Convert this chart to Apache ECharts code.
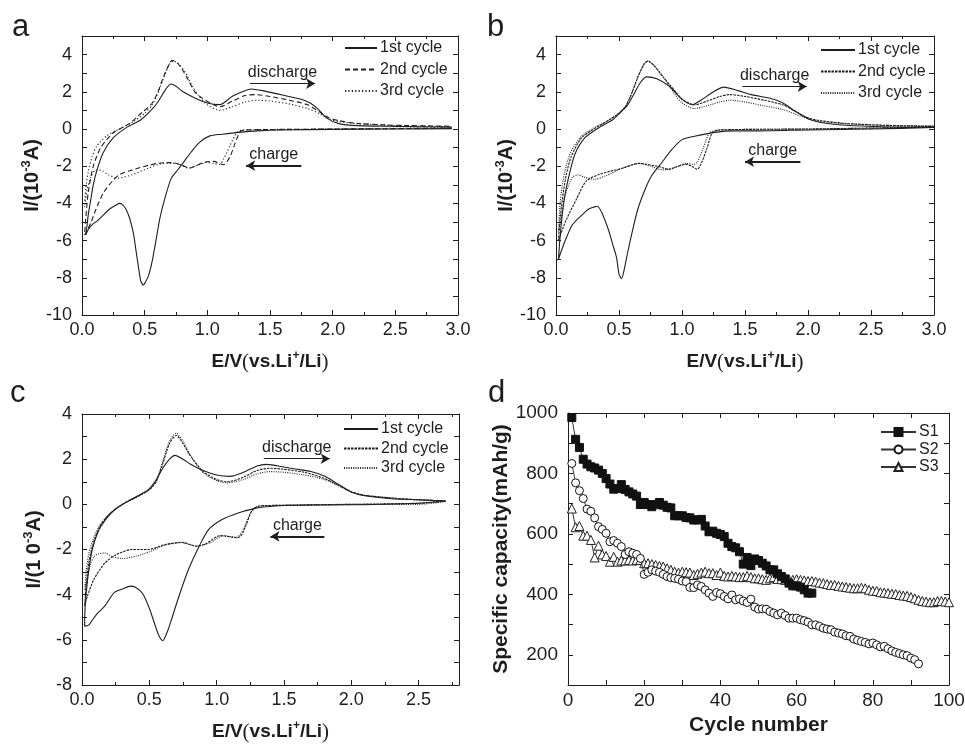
<!DOCTYPE html>
<html>
<head>
<meta charset="utf-8">
<script src="https://cdn.jsdelivr.net/npm/echarts@6/dist/echarts.min.js"></script>
<style>html,body{margin:0;padding:0;background:#fff}#c{width:965px;height:744px}</style>
</head>
<body>
<div id="c"></div>
<script>
// ---------- Panel a (E in V, I in 1e-3 A), each curve is a closed loop ----------
const aE1 = [2.95,2.5,2.0,1.6,1.4,1.25,1.12,1.02,0.94,0.87,0.81,0.76,0.71,0.66,0.62,0.59,0.56,0.53,0.50,0.49,0.47,0.45,0.43,0.41,0.38,0.35,0.32,0.30,0.27,0.22,0.16,0.12,0.08,0.05,0.03,
             0.04,0.05,0.07,0.09,0.12,0.17,0.25,0.36,0.47,0.55,0.60,0.65,0.68,0.71,0.75,0.80,0.90,1.00,1.10,1.20,1.28,1.35,1.45,1.55,1.65,1.75,1.82,1.88,1.95,2.05,2.20,2.50,2.95];
const aI1 = [0.02,0.0,-0.02,-0.05,-0.1,-0.18,-0.28,-0.37,-0.71,-1.25,-1.79,-2.23,-2.68,-3.76,-4.84,-6.0,-7.1,-7.9,-8.3,-8.38,-8.2,-7.4,-6.5,-5.6,-4.8,-4.3,-4.05,-4.0,-4.1,-4.3,-4.7,-4.95,-5.15,-5.4,-5.7,
             -5.2,-4.6,-3.8,-3.0,-2.2,-1.27,-0.47,0.1,0.5,1.0,1.4,1.94,2.25,2.42,2.3,2.03,1.67,1.4,1.31,1.76,2.0,2.15,2.05,1.9,1.75,1.6,1.4,1.1,0.6,0.29,0.18,0.14,0.11];
const aE2 = [2.95,2.5,2.0,1.5,1.3,1.26,1.22,1.18,1.13,1.05,0.97,0.90,0.86,0.80,0.71,0.60,0.53,0.40,0.30,0.25,0.17,0.11,0.07,0.03,0.02,
             0.03,0.05,0.09,0.15,0.25,0.38,0.48,0.55,0.60,0.65,0.70,0.72,0.76,0.80,0.85,0.90,0.95,1.05,1.10,1.20,1.30,1.38,1.50,1.65,1.80,1.90,1.97,2.05,2.20,2.50,2.95];
const aI2 = [0.05,0.02,0.0,-0.03,-0.05,-0.15,-0.8,-1.5,-1.92,-1.74,-1.8,-2.0,-2.1,-1.95,-1.8,-1.85,-1.95,-2.2,-2.45,-2.74,-3.44,-4.34,-5.05,-5.6,-5.7,
             -4.8,-3.4,-2.0,-1.0,-0.2,0.3,0.9,1.3,1.9,2.8,3.55,3.7,3.55,3.2,2.6,2.0,1.7,1.3,1.2,1.5,1.8,1.85,1.75,1.55,1.3,0.9,0.6,0.45,0.3,0.2,0.15];
const aE3 = [2.95,2.0,1.3,1.24,1.18,1.13,1.10,1.05,1.00,0.90,0.85,0.75,0.65,0.53,0.40,0.29,0.21,0.16,0.11,0.07,0.04,0.02,
             0.03,0.05,0.08,0.12,0.20,0.30,0.40,0.50,0.56,0.61,0.66,0.70,0.73,0.77,0.82,0.88,0.93,1.00,1.10,1.20,1.30,1.40,1.50,1.65,1.80,1.90,1.97,2.05,2.20,2.50,2.95];
const aI3 = [0.07,0.0,-0.05,-0.15,-0.9,-1.6,-1.9,-1.85,-1.8,-2.0,-2.1,-1.85,-1.85,-2.1,-2.46,-2.64,-2.46,-2.24,-2.2,-2.6,-3.3,-4.2,
             -3.2,-2.3,-1.5,-0.9,-0.35,0.0,0.35,0.85,1.3,2.0,2.9,3.5,3.65,3.5,3.1,2.3,1.8,1.3,1.0,1.2,1.45,1.55,1.5,1.35,1.1,0.8,0.55,0.4,0.28,0.18,0.12];

// ---------- Panel b ----------
const bE1 = [3.0,2.5,2.0,1.6,1.42,1.26,1.10,1.00,0.92,0.84,0.76,0.71,0.65,0.61,0.57,0.54,0.52,0.50,0.48,0.45,0.42,0.37,0.33,0.30,0.26,0.21,0.13,0.07,0.04,0.02,
             0.03,0.05,0.07,0.10,0.15,0.23,0.34,0.45,0.52,0.57,0.62,0.67,0.72,0.80,0.90,0.97,1.02,1.08,1.15,1.25,1.33,1.45,1.55,1.70,1.80,1.90,2.00,2.10,2.30,2.60,3.0];
const bI1 = [0.08,0.0,-0.05,-0.1,-0.1,-0.18,-0.39,-0.57,-1.1,-1.8,-2.5,-3.2,-4.3,-5.38,-6.6,-7.6,-8.05,-7.8,-6.9,-6.2,-5.5,-4.6,-4.15,-4.2,-4.3,-4.6,-5.15,-6.05,-6.6,-7.0,
             -6.0,-4.6,-3.6,-2.6,-1.36,-0.47,0.07,0.5,0.95,1.3,1.9,2.5,2.8,2.7,2.3,1.8,1.5,1.3,1.55,2.0,2.25,2.05,1.85,1.65,1.4,0.95,0.55,0.35,0.2,0.12,0.1];
const bE2 = [3.0,2.0,1.3,1.24,1.20,1.15,1.12,1.08,1.03,0.95,0.90,0.80,0.66,0.53,0.34,0.24,0.16,0.08,0.03,0.02,
             0.03,0.05,0.08,0.12,0.20,0.30,0.40,0.50,0.55,0.60,0.65,0.70,0.73,0.78,0.85,0.90,0.95,1.00,1.10,1.20,1.30,1.38,1.50,1.65,1.80,1.90,2.00,2.10,2.30,2.60,3.0];
const bI2 = [0.1,0.0,-0.05,-0.2,-1.0,-1.9,-2.17,-2.0,-1.9,-2.05,-2.17,-2.0,-1.85,-2.1,-2.45,-2.8,-3.8,-4.9,-5.8,-6.0,
             -5.0,-3.8,-2.5,-1.5,-0.5,0.0,0.4,0.85,1.2,1.9,2.8,3.5,3.65,3.4,2.8,2.4,2.0,1.6,1.3,1.5,1.75,1.85,1.75,1.55,1.3,0.95,0.6,0.45,0.3,0.2,0.15];
const bE3 = [3.0,2.0,1.3,1.22,1.17,1.12,1.09,1.03,0.95,0.85,0.75,0.66,0.53,0.40,0.31,0.23,0.17,0.13,0.07,0.04,0.02,
             0.03,0.05,0.08,0.12,0.20,0.30,0.40,0.50,0.55,0.60,0.65,0.70,0.73,0.78,0.85,0.90,0.95,1.00,1.10,1.20,1.30,1.38,1.50,1.65,1.80,1.90,2.00,2.10,2.30,2.60,3.0];
const bI3 = [0.1,0.0,-0.05,-0.2,-1.0,-1.8,-1.9,-1.85,-2.05,-2.2,-2.0,-1.85,-2.1,-2.5,-2.7,-2.6,-2.46,-2.6,-3.6,-4.9,-5.5,
             -4.2,-3.0,-2.0,-1.2,-0.4,0.05,0.4,0.85,1.2,1.9,2.8,3.5,3.65,3.4,2.8,2.3,1.8,1.4,1.1,1.25,1.45,1.55,1.45,1.25,1.05,0.8,0.55,0.4,0.28,0.2,0.15];

// ---------- Panel c ----------
const cE1 = [2.7,2.5,2.0,1.5,1.35,1.27,1.16,1.04,0.94,0.87,0.79,0.72,0.67,0.63,0.60,0.57,0.54,0.50,0.45,0.40,0.36,0.30,0.24,0.17,0.12,0.08,0.05,0.02,
             0.02,0.03,0.06,0.09,0.14,0.24,0.36,0.49,0.55,0.60,0.65,0.69,0.75,0.80,0.90,1.00,1.10,1.20,1.30,1.37,1.50,1.60,1.70,1.80,1.90,2.00,2.10,2.30,2.50,2.7];
const cI1 = [0.15,0.05,-0.02,-0.05,-0.12,-0.2,-0.38,-0.67,-1.12,-1.86,-2.9,-4.07,-5.0,-5.7,-6.04,-5.8,-5.3,-4.6,-3.95,-3.68,-3.62,-3.75,-3.9,-4.5,-4.8,-5.1,-5.35,-5.4,
             -5.2,-4.0,-2.5,-1.7,-0.98,-0.25,0.2,0.64,1.08,1.6,2.0,2.17,2.0,1.8,1.5,1.3,1.24,1.42,1.7,1.77,1.65,1.55,1.45,1.25,0.9,0.55,0.38,0.25,0.2,0.15];
const cE2 = [2.7,2.5,2.0,1.4,1.3,1.26,1.22,1.18,1.15,1.03,0.91,0.85,0.74,0.62,0.49,0.37,0.25,0.17,0.09,0.04,0.02,
             0.03,0.05,0.08,0.13,0.20,0.30,0.40,0.50,0.55,0.60,0.65,0.70,0.75,0.80,0.90,1.00,1.08,1.20,1.30,1.40,1.50,1.65,1.80,1.90,2.00,2.10,2.30,2.50,2.7];
const cI2 = [0.15,0.05,0.0,-0.05,-0.1,-0.3,-0.9,-1.4,-1.48,-1.38,-1.78,-1.85,-1.68,-1.78,-2.0,-2.0,-2.24,-2.6,-3.3,-4.07,-4.5,
             -3.6,-2.6,-1.8,-1.0,-0.45,0.0,0.3,0.65,1.0,1.8,2.7,3.05,2.7,2.2,1.45,1.1,1.0,1.2,1.5,1.6,1.55,1.42,1.15,0.85,0.55,0.4,0.28,0.2,0.15];
const cE3 = [2.7,2.5,2.0,1.4,1.3,1.25,1.20,1.15,1.05,0.95,0.85,0.74,0.62,0.50,0.40,0.30,0.22,0.17,0.12,0.09,0.06,0.04,0.02,
             0.03,0.05,0.08,0.13,0.20,0.30,0.40,0.50,0.55,0.60,0.65,0.70,0.75,0.80,0.90,1.00,1.08,1.20,1.30,1.40,1.50,1.65,1.80,1.90,2.00,2.10,2.30,2.50,2.7];
const cI3 = [0.12,0.0,0.0,-0.05,-0.1,-0.4,-1.1,-1.45,-1.4,-1.7,-1.85,-1.7,-1.8,-2.1,-2.3,-2.4,-2.3,-2.15,-2.2,-2.3,-2.7,-3.3,-3.8,
             -3.0,-2.2,-1.6,-0.95,-0.45,0.0,0.3,0.65,1.0,1.9,2.8,3.15,2.8,2.2,1.4,1.05,0.95,1.1,1.35,1.45,1.42,1.3,1.1,0.85,0.55,0.4,0.28,0.2,0.15];

// ---------- Panel d (specific capacity, mAh/g, per cycle starting at cycle 1) ----------
const capS1 = [985,913,886,847,831,822,818,811,800,783,765,748,750,763,747,739,732,725,697,704,697,690,697,704,695,688,686,660,660,660,654,653,646,646,648,626,607,609,602,598,591,569,558,554,541,500,522,495,517,512,503,494,481,481,468,459,451,437,428,428,424,415,404,404];
const capS2 = [833,769,743,717,682,675,653,624,615,602,574,578,569,558,532,541,536,532,519,466,473,481,477,473,466,459,455,453,450,444,442,423,422,431,426,415,404,393,406,402,393,385,398,382,385,378,373,384,358,351,352,351,343,338,332,338,330,321,321,321,316,313,308,299,299,294,288,285,283,275,272,269,263,261,252,248,244,241,236,239,233,226,228,220,213,208,204,200,197,189,184,170];
const capS3 = [684,622,626,594,594,580,522,561,532,527,508,524,508,512,512,514,512,514,514,503,503,500,497,494,492,486,481,475,472,475,473,472,464,468,472,475,470,470,464,472,461,459,461,459,457,457,461,457,453,453,450,448,453,457,451,450,448,448,448,450,448,446,444,444,442,439,437,434,431,431,428,426,424,422,420,420,422,420,415,412,411,407,406,404,402,401,398,396,395,391,387,382,378,376,374,374,378,378,376,374];

const cvNames = ['1st cycle','2nd cycle','3rd cycle'];
const capNames = ['S1','S2','S3'];

const FONT = 'Liberation Sans, Arial, sans-serif';
const INK = '#1e1e1e';
const zip = (xs, ys) => xs.map((x, i) => [x, ys[i]]);
const cyc = arr => arr.map((v, i) => [i + 1, v]);

const grids = [
  {left: 82, top: 36, width: 376, height: 279},
  {left: 556, top: 36, width: 378, height: 279},
  {left: 82, top: 414, width: 377, height: 271},
  {left: 568, top: 413, width: 381, height: 272}
].map(g => Object.assign({outerBoundsMode: 'none', containLabel: false}, g));

const xName = {
  text: '{b|E/V}{p|(}{b|vs.Li}{s|+}{b|/Li}{p|)}',
  rich: {
    b: {fontFamily: FONT, fontWeight: 'bold', fontSize: 19, color: INK, lineHeight: 24},
    p: {fontFamily: 'Liberation Serif, Times New Roman, serif', fontSize: 21, color: INK, lineHeight: 24},
    s: {fontFamily: FONT, fontWeight: 'bold', fontSize: 12, color: INK, lineHeight: 24, verticalAlign: 'top'}
  }
};
function yNameCV(spaced) {
  return {
    text: spaced ? '{b|I/(1 0}{s|-3}{b|A)}' : '{b|I/(10}{s|-3}{b|A)}',
    rich: {
      b: {fontFamily: FONT, fontWeight: 'bold', fontSize: 20, color: INK, lineHeight: 24},
      s: {fontFamily: FONT, fontWeight: 'bold', fontSize: 13, color: INK, lineHeight: 24, verticalAlign: 'top'}
    }
  };
}

const axisLineStyle = {show: true, onZero: false, lineStyle: {color: INK, width: 1}};
const fmtHalf = v => (Math.abs(v * 2 - Math.round(v * 2)) < 1e-6 ? v.toFixed(1) : '');

function xAxes(gi, max, labelFmt, interval, minor, nameObj, nameGap, labelSize) {
  const base = {
    type: 'value', gridIndex: gi, min: 0, max: max, interval: interval,
    axisLine: axisLineStyle, splitLine: {show: false},
    axisTick: {show: true, inside: true, length: 5, lineStyle: {color: INK}},
    minorTick: {show: minor, splitNumber: 2, length: 3, lineStyle: {color: INK}}
  };
  const bottom = Object.assign({}, base, {
    position: 'bottom',
    axisLabel: {show: true, formatter: labelFmt, fontFamily: FONT, fontSize: labelSize, color: INK, margin: 6},
    name: nameObj.text, nameLocation: 'middle', nameGap: nameGap,
    nameTextStyle: {rich: nameObj.rich}
  });
  const top = Object.assign({}, base, {position: 'top', axisLabel: {show: false}});
  return [bottom, top];
}
function yAxes(gi, min, max, interval, labelFmt, nameObj, nameGap, labelSize) {
  const base = {
    type: 'value', gridIndex: gi, min: min, max: max, interval: interval,
    axisLine: axisLineStyle, splitLine: {show: false},
    axisTick: {show: true, inside: true, length: 5, lineStyle: {color: INK}}
  };
  const left = Object.assign({}, base, {
    position: 'left',
    axisLabel: {show: true, formatter: labelFmt, fontFamily: FONT, fontSize: labelSize, color: INK, margin: 10},
    name: nameObj.text, nameLocation: 'middle', nameGap: nameGap, nameRotate: 90,
    nameTextStyle: {rich: nameObj.rich}
  });
  const right = Object.assign({}, base, {position: 'right', axisLabel: {show: false}});
  return [left, right];
}

const evenFmt = v => (Math.round(v) % 2 === 0 ? String(v) : '');
const fmt200 = v => (v % 200 === 0 ? String(v) : '');
const fmt20 = v => (v % 20 === 0 ? String(v) : '');

const xAxis = [].concat(
  xAxes(0, 3, fmtHalf, 0.5, true, xName, 35, 18),
  xAxes(1, 3, fmtHalf, 0.5, true, xName, 35, 18),
  xAxes(2, 2.8, v => (v <= 2.51 ? fmtHalf(v) : ''), 0.5, true, xName, 35, 18),
  xAxes(3, 100, fmt20, 10, false, {text: 'Cycle number', rich: {}}, 30, 19)
);
xAxis[6].nameTextStyle = {fontFamily: FONT, fontWeight: 'bold', fontSize: 21, color: INK};

const yAxis = [].concat(
  yAxes(0, -10, 5, 1, evenFmt, yNameCV(false), 35, 18),
  yAxes(1, -10, 5, 1, evenFmt, yNameCV(false), 30, 18),
  yAxes(2, -8, 4, 1, evenFmt, yNameCV(true), 36, 18),
  yAxes(3, 100, 1000, 100, fmt200, {text: 'Specific capacity(mAh/g)', rich: {}}, 51, 19)
);
yAxis[6].nameTextStyle = {fontFamily: FONT, fontWeight: 'bold', fontSize: 21, color: INK};

function cvSeries(panel, idx, names, curves, dashes, notes) {
  return curves.map((c, k) => {
    const s = {
      name: panel + '|' + names[k], type: 'line', xAxisIndex: idx * 2, yAxisIndex: idx * 2,
      data: zip(c[0], c[1]), showSymbol: false, symbol: 'none', smooth: 0.25,
      lineStyle: {color: INK, width: 1.1, type: dashes[k]}, itemStyle: {color: INK},
      z: 3
    };
    if (k === 0) {
      s.markLine = {
        silent: true, animation: false, symbol: ['none', 'arrow'], symbolSize: [8, 9],
        lineStyle: {type: 'solid', color: INK, width: 1.2},
        label: {show: true, position: 'insideMiddleTop', distance: 3, fontFamily: FONT, fontSize: 16, color: INK},
        data: [
          [{coord: notes.dis[0], label: {formatter: 'discharge'}}, {coord: notes.dis[1]}],
          [{coord: notes.chg[0], symbol: 'arrow', label: {formatter: 'charge'}, lineStyle: {width: 2.2}}, {coord: notes.chg[1], symbol: 'none'}]
        ]
      };
    }
    return s;
  });
}

const series = [].concat(
  cvSeries('a', 0, cvNames, [[aE1, aI1], [aE2, aI2], [aE3, aI3]], ['solid', [5, 3], [1.2, 2.2]],
    {dis: [[1.34, 2.44], [1.86, 2.44]], chg: [[1.31, -1.97], [1.75, -1.97]]}),
  cvSeries('b', 1, cvNames, [[bE1, bI1], [bE2, bI2], [bE3, bI3]], ['solid', [2.5, 1], [1, 1.3]],
    {dis: [[1.48, 2.28], [1.99, 2.28]], chg: [[1.50, -1.76], [1.94, -1.76]]}),
  cvSeries('c', 2, cvNames, [[cE1, cI1], [cE2, cI2], [cE3, cI3]], ['solid', [2.5, 1], [1, 1.3]],
    {dis: [[1.35, 2.02], [1.84, 2.02]], chg: [[1.40, -1.42], [1.80, -1.42]]}),
  [
    {name: 'd|S1', type: 'line', xAxisIndex: 6, yAxisIndex: 6, data: cyc(capS1), symbol: 'rect', symbolSize: 8,
     lineStyle: {color: '#333', width: 1}, itemStyle: {color: '#111', borderColor: '#111', borderWidth: 1}, z: 5},
    {name: 'd|S2', type: 'line', xAxisIndex: 6, yAxisIndex: 6, data: cyc(capS2), symbol: 'circle', symbolSize: 8,
     lineStyle: {color: '#333', width: 1}, itemStyle: {color: '#fff', borderColor: '#111', borderWidth: 1}, z: 4},
    {name: 'd|S3', type: 'line', xAxisIndex: 6, yAxisIndex: 6, data: cyc(capS3), symbol: 'triangle', symbolSize: 9,
     lineStyle: {color: '#333', width: 1}, itemStyle: {color: '#fff', borderColor: '#222', borderWidth: 1}, z: 3}
  ]
);
series.forEach(s => { s.animation = false; s.silent = true; });

function legend(panel, names, left, top, gap, itemH, lh, iw, hideSymbol) {
  const l = {
    data: names.map(n => panel + '|' + n), orient: 'vertical', left: left, top: top,
    itemWidth: iw, itemHeight: itemH, itemGap: gap, padding: 0, selectedMode: false,
    formatter: n => n.split('|')[1],
    textStyle: {fontFamily: FONT, fontSize: 16, color: INK, lineHeight: lh, padding: [0, 0, 0, -2]}
  };
  if (hideSymbol) l.itemStyle = {opacity: 0};
  return l;
}

const letters = [['a', 12, 27], ['b', 487, 27], ['c', 10, 393], ['d', 488, 393]].map(l => ({
  type: 'text', left: l[1], top: l[2] - 15, silent: true,
  style: {text: l[0], font: '31px ' + FONT, fill: INK}
}));

const option = {
  backgroundColor: '#fff',
  animation: false,
  grid: grids,
  xAxis: xAxis,
  yAxis: yAxis,
  legend: [
    legend('a', cvNames, 344, 40, 5.5, 14, 16, 32, true),
    legend('b', cvNames, 820, 42, 5.5, 14, 16, 34, true),
    legend('c', cvNames, 343, 421, 3.5, 14, 16, 34, true),
    legend('d', capNames, 880, 424, 1.5, 10, 14, 35, false)
  ],
  graphic: letters,
  series: series
};

const chart = echarts.init(document.getElementById('c'), null, {renderer: 'canvas'});
chart.setOption(option);
</script>
</body>
</html>
